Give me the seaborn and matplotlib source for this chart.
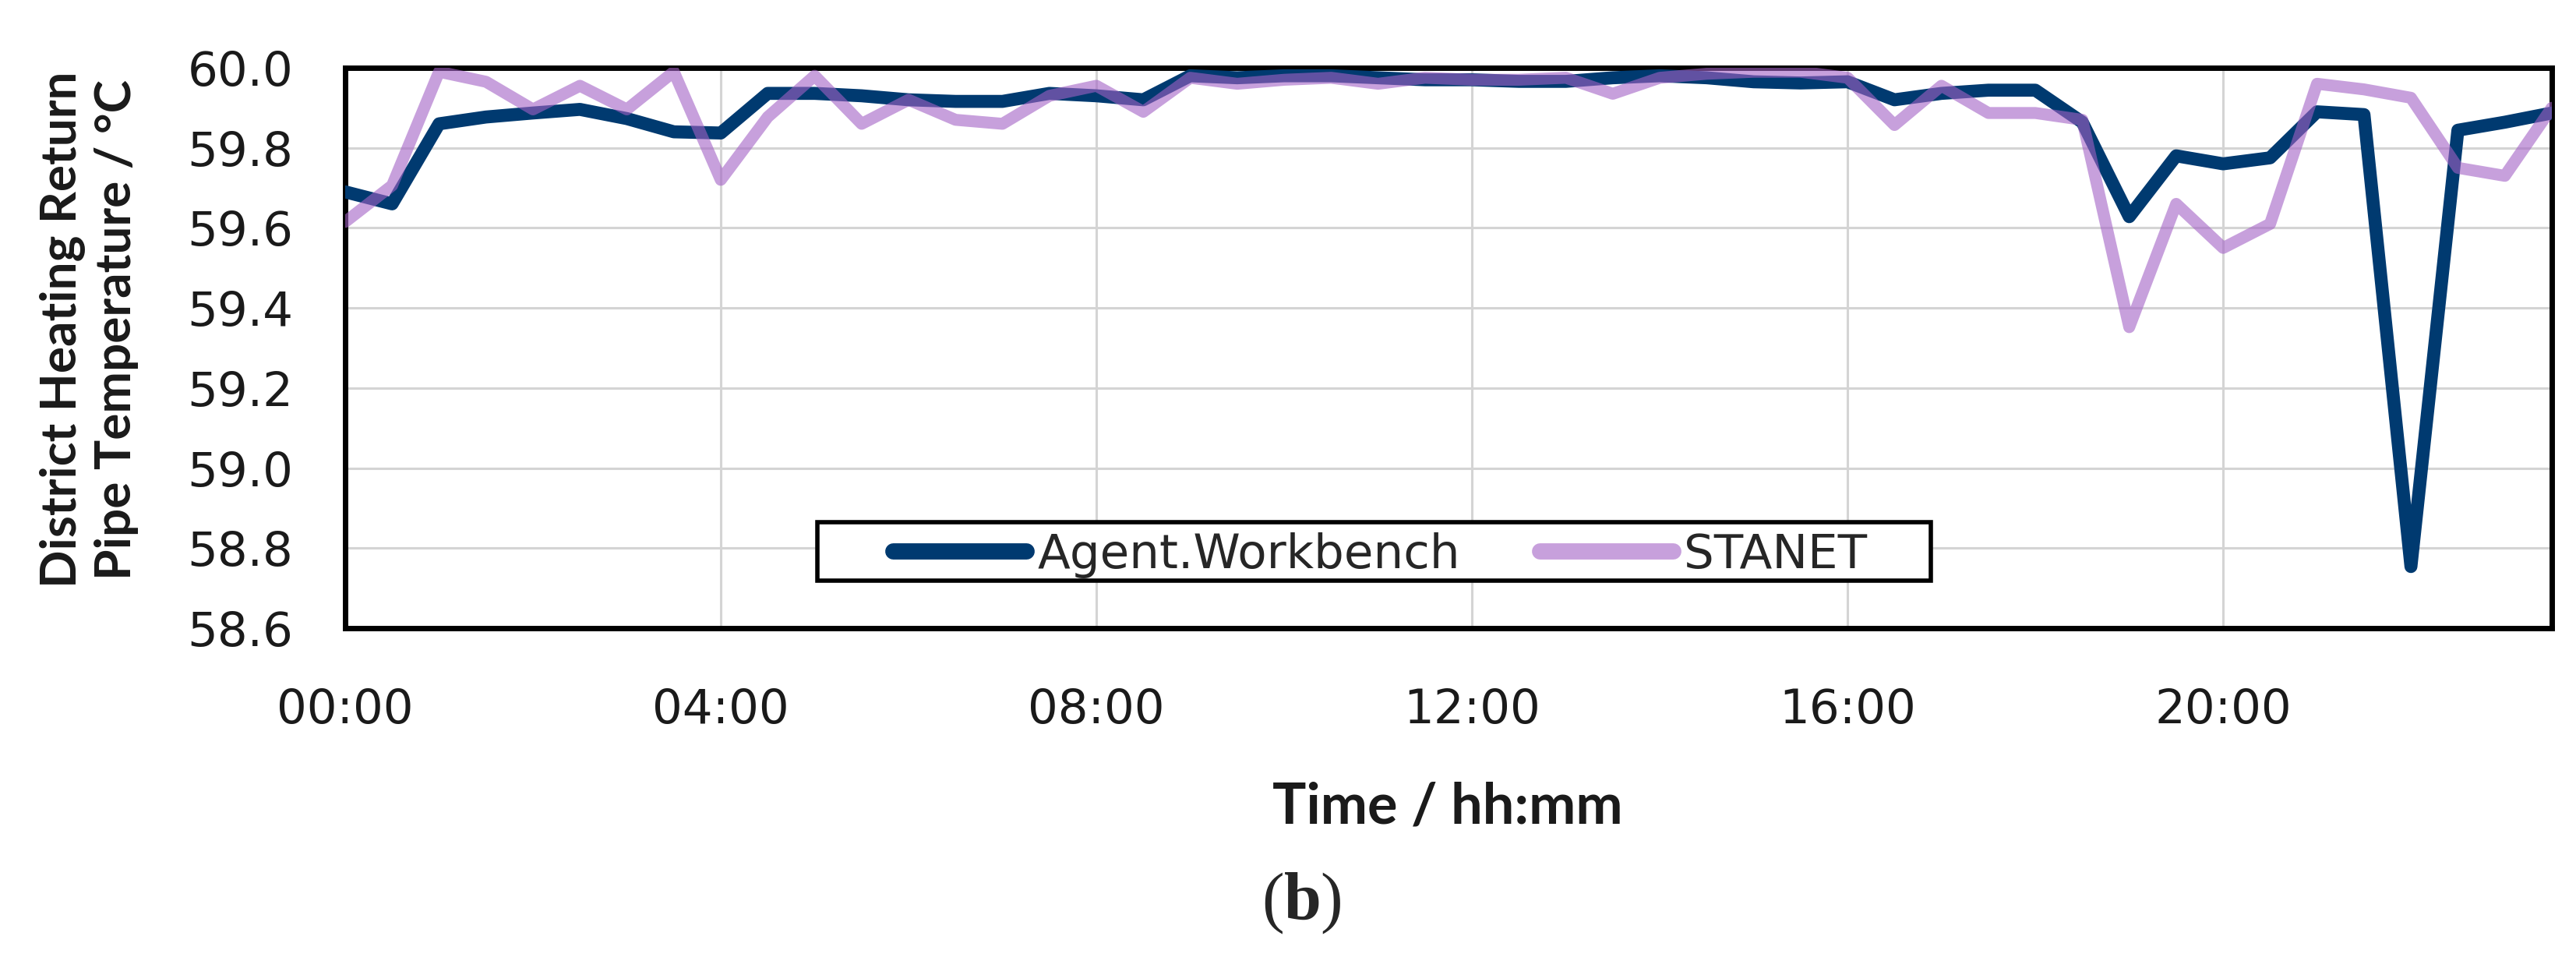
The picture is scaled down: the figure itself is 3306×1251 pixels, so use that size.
import pandas as pd
import seaborn as sns
import matplotlib.pyplot as plt
from matplotlib.patches import Rectangle

# half-hourly return temperatures
times = ['00:00', '00:30', '01:00', '01:30', '02:00', '02:30', '03:00', '03:30',
         '04:00', '04:30', '05:00', '05:30', '06:00', '06:30', '07:00', '07:30',
         '08:00', '08:30', '09:00', '09:30', '10:00', '10:30', '11:00', '11:30',
         '12:00', '12:30', '13:00', '13:30', '14:00', '14:30', '15:00', '15:30',
         '16:00', '16:30', '17:00', '17:30', '18:00', '18:30', '19:00', '19:30',
         '20:00', '20:30', '21:00', '21:30', '22:00', '22:30', '23:00', '23:30']

agent = [59.69, 59.66, 59.86, 59.877, 59.887, 59.896, 59.873, 59.84,
         59.837, 59.936, 59.936, 59.93, 59.92, 59.916, 59.916, 59.936,
         59.93, 59.92, 59.98, 59.975, 59.98, 59.98, 59.975, 59.97,
         59.97, 59.966, 59.966, 59.975, 59.98, 59.975, 59.965, 59.962,
         59.965, 59.92, 59.936, 59.944, 59.944, 59.864, 59.628, 59.78,
         59.76, 59.775, 59.89, 59.883, 58.754, 59.844, 59.864, 59.887]

stanet = [59.615, 59.706, 59.99, 59.965, 59.896, 59.955, 59.896, 59.99,
          59.72, 59.877, 59.98, 59.86, 59.92, 59.87, 59.86, 59.93,
          59.955, 59.89, 59.975, 59.96, 59.97, 59.975, 59.96, 59.975,
          59.97, 59.97, 59.975, 59.935, 59.975, 59.985, 59.99, 59.99,
          59.975, 59.857, 59.955, 59.887, 59.887, 59.87, 59.352, 59.66,
          59.55, 59.61, 59.96, 59.946, 59.925, 59.75, 59.73, 59.90]

tick_labels = ['00:00', '04:00', '08:00', '12:00', '16:00', '20:00']
y_ticks = [58.6, 58.8, 59.0, 59.2, 59.4, 59.6, 59.8, 60.0]

hours = [int(t[:2]) + int(t[3:]) / 60 for t in times]
df = pd.DataFrame({'hour': hours, 'Agent.Workbench': agent, 'STANET': stanet})

sns.set_style('white')
plt.rcParams['font.family'] = ['DejaVu Sans']

fig = plt.figure(figsize=(33.06, 12.51), dpi=100)
ax = fig.add_axes([0.134, 0.3557, 0.8566, 0.5748])

sns.lineplot(data=df, x='hour', y='Agent.Workbench', color='#003a70', lw=12,
             ax=ax, label='Agent.Workbench', zorder=3)
sns.lineplot(data=df, x='hour', y='STANET', color='#a361c5', lw=11, alpha=0.6,
             ax=ax, label='STANET', zorder=4)

ax.set_xlim(0, 23.5)
ax.set_ylim(58.6, 60.0)
ax.set_xticks([int(t[:2]) for t in tick_labels])
ax.set_xticklabels(tick_labels)
ax.set_yticks(y_ticks)
ax.set_yticklabels([f'{v:.1f}' for v in y_ticks])
ax.grid(True, color='#d4d4d4', lw=2.2)
ax.set_axisbelow(True)
for s in ax.spines.values():
    s.set_color('black')
    s.set_linewidth(5)
ax.tick_params(axis='both', direction='inout', length=34, width=4, labelsize=44,
               color='black', labelcolor='#1a1a1a')
ax.tick_params(axis='x', pad=38)
ax.tick_params(axis='y', pad=31)
ax.set_xlabel('')
ax.set_ylabel('')

# legend box drawn by hand so the inner padding matches
ax.add_patch(Rectangle((0.214, 0.0848), 0.5046, 0.1042, transform=ax.transAxes,
                       fc='white', ec='black', lw=4, zorder=5))
leg = ax.legend(loc='center', bbox_to_anchor=(0.469, 0.1307), ncol=2, fontsize=44,
                frameon=False, handlelength=2.8, handletextpad=0.23,
                columnspacing=1.67, borderpad=0, borderaxespad=0)
leg.set_zorder(6)
for h in leg.get_lines():
    h.set_linewidth(15)
    h.set_solid_capstyle('round')

fig.text(0.562, 0.172, 'Time / hh:mm', ha='center', va='center',
         fontsize=52, fontweight='bold', family='Lato', color='#1a1a1a')
fig.text(0.0345, 0.662, 'District Heating Return\nPipe Temperature / \u00b0C',
         rotation=90, ha='center', va='center', fontsize=46, fontweight='bold',
         family='Lato', color='#1a1a1a', linespacing=1.25)
fig.text(0.4985, 0.074, '(', ha='right', va='center', fontsize=62,
         family='Liberation Serif')
fig.text(0.4985, 0.074, 'b', ha='left', va='center', fontsize=62,
         family='Liberation Serif', fontweight='bold')
fig.text(0.5125, 0.074, ')', ha='left', va='center', fontsize=62,
         family='Liberation Serif')

fig.savefig('out.png', dpi=100)
